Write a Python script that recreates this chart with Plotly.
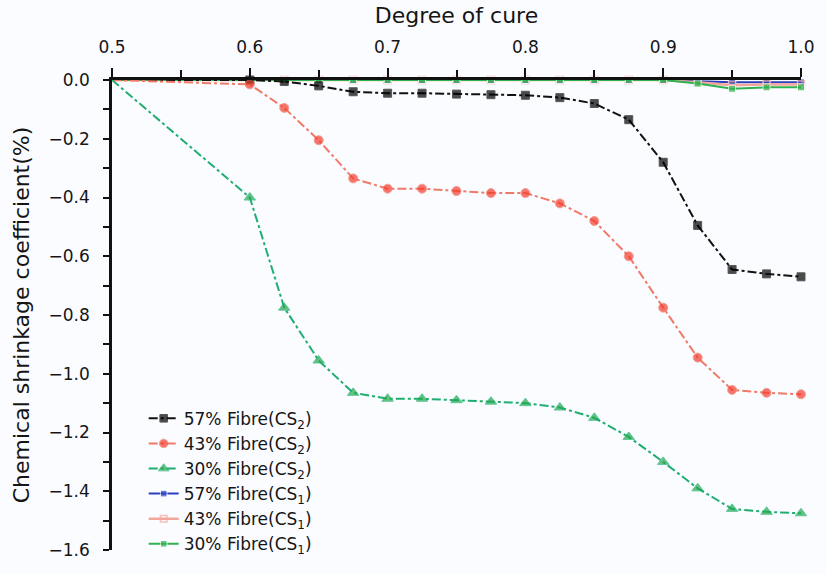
import plotly.graph_objects as go

# Degree of cure (x)
cure = [0.5, 0.6, 0.625, 0.65, 0.675, 0.7, 0.725, 0.75, 0.775, 0.8, 0.825,
        0.85, 0.875, 0.9, 0.925, 0.95, 0.975, 1.0]

cs2_57 = [0.0, 0.0, -0.005, -0.02, -0.04, -0.045, -0.045, -0.048, -0.05, -0.052,
          -0.06, -0.08, -0.135, -0.28, -0.495, -0.645, -0.66, -0.67]
cs2_43 = [0.0, -0.015, -0.095, -0.205, -0.335, -0.37, -0.37, -0.378, -0.385, -0.385,
          -0.42, -0.48, -0.6, -0.775, -0.945, -1.055, -1.065, -1.07]
cs2_30 = [0.0, -0.4, -0.775, -0.955, -1.065, -1.085, -1.085, -1.09, -1.095, -1.1,
          -1.115, -1.15, -1.215, -1.3, -1.39, -1.46, -1.47, -1.475]
cs1_57 = [0.0, 0.0, 0.0, 0.0, 0.0, 0.0, 0.0, 0.0, 0.0, 0.0,
          0.0, 0.0, 0.0, 0.0, -0.004, -0.008, -0.008, -0.008]
cs1_43 = [0.0, 0.0, 0.0, 0.0, 0.0, 0.0, 0.0, 0.0, 0.0, 0.0,
          0.0, 0.0, 0.0, 0.0, -0.008, -0.018, -0.015, -0.015]
cs1_30 = [0.0, 0.0, 0.0, 0.0, 0.0, 0.0, 0.0, 0.0, 0.0, 0.0,
          0.0, 0.0, 0.0, 0.0, -0.012, -0.03, -0.025, -0.025]

x_ticks = [0.5, 0.6, 0.7, 0.8, 0.9, 1.0]
x_ticktext = ["0.5", "0.6", "0.7", "0.8", "0.9", "1.0"]
y_ticks = [0, -0.2, -0.4, -0.6, -0.8, -1.0, -1.2, -1.4, -1.6]

names = ["57% Fibre(CS<sub>2</sub>)", "43% Fibre(CS<sub>2</sub>)", "30% Fibre(CS<sub>2</sub>)",
         "57% Fibre(CS<sub>1</sub>)", "43% Fibre(CS<sub>1</sub>)", "30% Fibre(CS<sub>1</sub>)"]

fig = go.Figure()

def sizes(s):
    return [0] + [s] * (len(cure) - 1)

# CS1 series (drawn first, underneath)
fig.add_trace(go.Scatter(x=cure, y=cs1_57, name=names[3], mode="lines+markers",
                         line=dict(color="#2a3fbf", width=2),
                         marker=dict(symbol="square", size=sizes(7), color="#2a3fbf")))
fig.add_trace(go.Scatter(x=cure, y=cs1_43, name=names[4], mode="lines+markers",
                         line=dict(color="#f2a79a", width=2.5),
                         marker=dict(symbol="square-open", size=sizes(7), color="#f2a79a",
                                     line=dict(width=1.5))))
fig.add_trace(go.Scatter(x=cure, y=cs1_30, name=names[5], mode="lines+markers",
                         line=dict(color="#2eb24f", width=2),
                         marker=dict(symbol="square", size=sizes(7), color="#2eb24f")))

# CS2 series
fig.add_trace(go.Scatter(x=cure, y=cs2_57, name=names[0], mode="lines+markers",
                         line=dict(color="#111111", width=2, dash="dashdot"),
                         marker=dict(symbol="square", size=sizes(8), color="#000000")))
fig.add_trace(go.Scatter(x=cure, y=cs2_43, name=names[1], mode="lines+markers",
                         line=dict(color="#f07a68", width=2, dash="dashdot"),
                         marker=dict(symbol="circle", size=sizes(9), color="#f53a2a")))
fig.add_trace(go.Scatter(x=cure, y=cs2_30, name=names[2], mode="lines+markers",
                         line=dict(color="#1fae70", width=2, dash="dashdot"),
                         marker=dict(symbol="triangle-up", size=sizes(10), color="#22a84a")))

for tr in fig.data:
    tr.cliponaxis = False

# legend order: CS2 first then CS1
order = [3, 4, 5, 0, 1, 2]
for rank, idx in enumerate(order):
    fig.data[idx].legendrank = rank + 1

font = "DejaVu Sans"
fig.update_layout(
    width=827, height=574,
    margin=dict(l=112, r=17, t=80, b=23),
    paper_bgcolor="#fbfcff", plot_bgcolor="#fbfcff",
    font=dict(family=font, color="#151515", size=17),
    showlegend=True,
    legend=dict(x=0.046, y=-0.025, xanchor="left", yanchor="bottom",
                bgcolor="rgba(0,0,0,0)", font=dict(size=17), tracegroupgap=0,
                itemwidth=30),
    xaxis=dict(range=[0.5, 1.0], side="top", showgrid=False, zeroline=False,
               tickvals=x_ticks, ticktext=x_ticktext,
               ticks="outside", ticklen=9, tickwidth=2, tickcolor="#111111",
               minor=dict(dtick=0.05, tick0=0.5, ticks="outside", ticklen=7, tickwidth=2,
                          tickcolor="#111111"),
               showline=True, linecolor="#111111", linewidth=2.5,
               ticklabelstandoff=8,
               tickfont=dict(size=17), title=dict(text="Degree of cure", font=dict(size=22),
                                                  standoff=8)),
    yaxis=dict(range=[-1.6, 0.0], showgrid=False, zeroline=False,
               tickvals=y_ticks, tickformat=".1f",
               ticks="outside", ticklen=6, tickwidth=2, tickcolor="#111111",
               minor=dict(dtick=0.1, tick0=0, ticks="outside", ticklen=6, tickwidth=2,
                          tickcolor="#111111"),
               showline=True, linecolor="#111111", linewidth=2.5,
               ticklabelstandoff=10,
               tickfont=dict(size=17),
               title=dict(text="Chemical shrinkage coefficient(%)", font=dict(size=22),
                          standoff=13)),
)

fig.write_html("out.html", config={"displayModeBar": False},
               post_script="document.body.style.margin='0';")
